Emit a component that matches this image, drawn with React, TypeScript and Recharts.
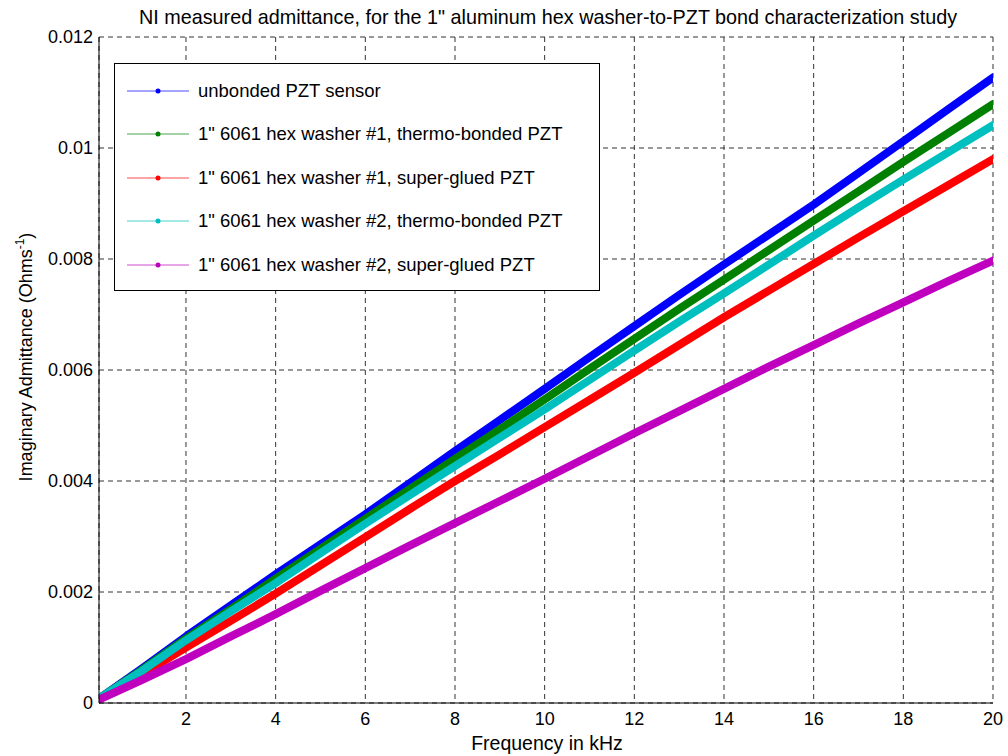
import { LineChart, Line, XAxis, YAxis, CartesianGrid, Legend } from 'recharts';

const freqKHz = [0.06, 1, 2, 3, 4, 5, 6, 7, 8, 9, 10, 11, 12, 13, 14, 15, 16, 17, 18, 19, 20];

const unbonded = [0.00008, 0.00061, 0.0012, 0.00176, 0.00232, 0.00286, 0.0034, 0.00397, 0.00454, 0.0051, 0.00566, 0.00623, 0.00679, 0.00735, 0.0079, 0.00844, 0.00898, 0.00955, 0.01012, 0.0107, 0.01127];
const washer1Thermo = [0.00008, 0.00059, 0.00116, 0.00169, 0.00224, 0.00278, 0.00332, 0.00386, 0.0044, 0.00493, 0.00547, 0.00602, 0.00656, 0.0071, 0.00763, 0.00816, 0.00869, 0.00922, 0.00975, 0.01027, 0.01079];
const washer1Glued = [0.00007, 0.00051, 0.001, 0.00148, 0.00197, 0.00248, 0.00299, 0.0035, 0.004, 0.00448, 0.00497, 0.00546, 0.00595, 0.00645, 0.00695, 0.00743, 0.00791, 0.00839, 0.00886, 0.00933, 0.0098];
const washer2Thermo = [0.00008, 0.00057, 0.00113, 0.00165, 0.00216, 0.0027, 0.00323, 0.00375, 0.00427, 0.00478, 0.00529, 0.00582, 0.00635, 0.00687, 0.00738, 0.0079, 0.00842, 0.00893, 0.00943, 0.00992, 0.01041];
const washer2Glued = [0.00006, 0.00041, 0.00079, 0.0012, 0.0016, 0.00202, 0.00243, 0.00284, 0.00324, 0.00364, 0.00404, 0.00445, 0.00486, 0.00526, 0.00566, 0.00606, 0.00645, 0.00684, 0.00722, 0.0076, 0.00797];

const xTicks = [2, 4, 6, 8, 10, 12, 14, 16, 18, 20];
const yTicks = [0, 0.002, 0.004, 0.006, 0.008, 0.01, 0.012];

const series = [
  { key: 'unbonded', name: 'unbonded PZT sensor', color: '#0000ff', values: unbonded },
  { key: 'w1t', name: '1" 6061 hex washer #1, thermo-bonded PZT', color: '#008000', values: washer1Thermo },
  { key: 'w1g', name: '1" 6061 hex washer #1, super-glued PZT', color: '#ff0000', values: washer1Glued },
  { key: 'w2t', name: '1" 6061 hex washer #2, thermo-bonded PZT', color: '#00bfbf', values: washer2Thermo },
  { key: 'w2g', name: '1" 6061 hex washer #2, super-glued PZT', color: '#bf00bf', values: washer2Glued },
];

const data = freqKHz.map((f, i) => {
  const row: Record<string, number> = { f };
  series.forEach((s) => { row[s.key] = s.values[i]; });
  return row;
});

const font = '"Liberation Sans", Arial, Helvetica, sans-serif';

function LegendBox() {
  return (
    <div style={{ width: 484, height: 221, border: '1px solid #000', background: '#fff', paddingTop: 5, boxSizing: 'content-box', fontFamily: font }}>
      {series.map((s) => (
        <div key={s.key} style={{ height: 43.5, display: 'flex', alignItems: 'center' }}>
          <svg width={83} height={10} style={{ flex: 'none' }}>
            <line x1={12} y1={5} x2={74} y2={5} stroke={s.color} strokeWidth={1} opacity={0.7} />
            <circle cx={43} cy={5} r={2.5} fill={s.color} />
          </svg>
          <span style={{ fontSize: 18.5, color: '#000', whiteSpace: 'nowrap' }}>{s.name}</span>
        </div>
      ))}
    </div>
  );
}

export default function App() {
  return (
    <div style={{ position: 'absolute', left: 0, top: 0, width: 1008, height: 756, background: '#fff', fontFamily: font }}>
      <LineChart width={1008} height={756} data={data} margin={{ top: 37, right: 15, left: 0, bottom: 0 }}>
        <CartesianGrid stroke="#333" strokeDasharray="5 4" />
        <XAxis xAxisId="inner" dataKey="f" type="number" domain={[0.06, 20]} ticks={xTicks} height={0} mirror tick={false}
          axisLine={false} tickLine={{ stroke: '#000' }} tickSize={6} allowDataOverflow />
        <XAxis dataKey="f" type="number" domain={[0.06, 20]} ticks={xTicks} height={53} allowDataOverflow
          axisLine={{ stroke: '#000' }} tickLine={false} tickSize={6} tickMargin={3}
          tick={{ fill: '#000', fontSize: 18, fontFamily: font }} />
        <XAxis xAxisId="top" orientation="top" dataKey="f" type="number" domain={[0.06, 20]} ticks={xTicks} height={0} mirror
          tick={false} axisLine={{ stroke: '#000' }} tickLine={{ stroke: '#000' }} tickSize={6} allowDataOverflow />
        <YAxis yAxisId="inner" type="number" domain={[0, 0.012]} ticks={yTicks} width={0} mirror tick={false}
          axisLine={false} tickLine={{ stroke: '#000' }} tickSize={6} />
        <YAxis type="number" domain={[0, 0.012]} ticks={yTicks} width={99}
          axisLine={{ stroke: '#000' }} tickLine={false} tickSize={4} tickMargin={2}
          tickFormatter={(v: number) => String(v)}
          tick={{ fill: '#000', fontSize: 18, fontFamily: font }} />
        <YAxis yAxisId="right" orientation="right" type="number" domain={[0, 0.012]} ticks={yTicks} width={0} mirror
          tick={false} axisLine={{ stroke: '#000' }} tickLine={{ stroke: '#000' }} tickSize={6} />
        <Legend layout="vertical" align="center" verticalAlign="middle" content={() => <LegendBox />}
          wrapperStyle={{ left: 114, top: 63, width: 486, height: 228 }} />
        {series.map((s) => (
          <Line key={s.key} type="linear" dataKey={s.key} name={s.name} stroke={s.color} strokeWidth={8}
            strokeLinejoin="round" strokeLinecap="round" dot={false} isAnimationActive={false} />
        ))}
        <text x={548} y={24} textAnchor="middle" fontSize={19.8} fontFamily={font} fill="#000">
          NI measured admittance, for the 1" aluminum hex washer-to-PZT bond characterization study
        </text>
        <text x={547} y={750} textAnchor="middle" fontSize={19.5} fontFamily={font} fill="#000">Frequency in kHz</text>
        <text x={32} y={357} transform="rotate(-90 32 357)" textAnchor="middle" fontSize={18} fontFamily={font} fill="#000">
          Imaginary Admittance (Ohms<tspan fontSize={12} dy={-8}>-1</tspan><tspan dy={8}>)</tspan>
        </text>
      </LineChart>
    </div>
  );
}
